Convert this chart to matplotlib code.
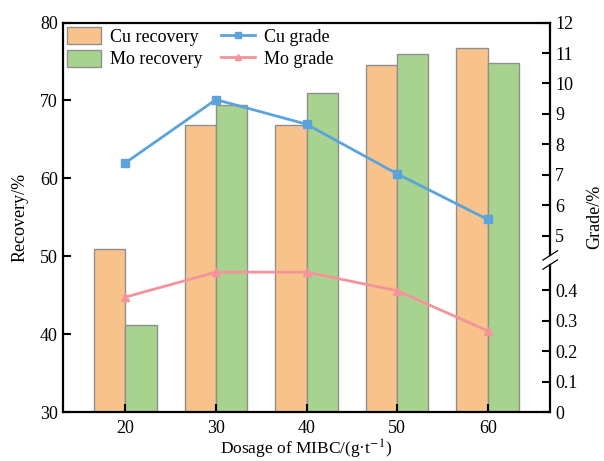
import numpy as np
import matplotlib
matplotlib.use('Agg')
import matplotlib.pyplot as plt
from matplotlib.patches import Patch
from matplotlib.lines import Line2D

plt.rcParams['font.family'] = ['Liberation Serif', 'DejaVu Serif']
plt.rcParams['mathtext.fontset'] = 'stix'

# Data
dosage = [20, 30, 40, 50, 60]
cu_recovery = [51.0, 66.9, 66.9, 74.6, 76.8]
mo_recovery = [41.2, 69.4, 70.9, 76.0, 74.8]
cu_grade = [7.39, 9.47, 8.66, 7.03, 5.53]
mo_grade = [0.378, 0.460, 0.460, 0.399, 0.267]

right_ticks = [0, 0.1, 0.2, 0.3, 0.4, 5, 6, 7, 8, 9, 10, 11, 12]
right_labels = ['0', '0.1', '0.2', '0.3', '0.4', '5', '6', '7', '8', '9', '10', '11', '12']


# broken right axis: 0-0.5 -> 0-5, 4.2-12 -> 5-12.8
def to_u(v):
    v = np.asarray(v, dtype=float)
    return np.where(v <= 0.5, v * 10, v + 0.8)


fig = plt.figure(figsize=(6.04, 4.61), dpi=100)
ax = fig.add_axes([0.104, 0.106, 0.807, 0.845])

x = np.array(dosage, dtype=float)
w = 3.45
ax.bar(x - w / 2, cu_recovery, width=w, color='#F8C38A', edgecolor='#8f8f8f', linewidth=1.0)
ax.bar(x + w / 2, mo_recovery, width=w, color='#A8D38F', edgecolor='#8f8f8f', linewidth=1.0)
ax.set_ylim(30, 80)
ax.set_xlim(13.1, 66.9)
ax.set_xticks(dosage)
ax.set_yticks([30, 40, 50, 60, 70, 80])
ax.tick_params(direction='in', length=6, width=1.5, labelsize=13)
ax.tick_params(axis='x', pad=6)
ax.set_xlabel('Dosage of MIBC/(g·t$^{-1}$)', fontsize=12.5, labelpad=0)
ax.set_ylabel('Recovery/%', fontsize=13, labelpad=8)
for s in ['left', 'bottom', 'top']:
    ax.spines[s].set_linewidth(1.6)
ax.spines['right'].set_visible(False)

ax2 = ax.twinx()
ax2.plot(x, to_u(cu_grade), color='#5AA3DC', lw=2, marker='s', ms=6)
ax2.plot(x, to_u(mo_grade), color='#F4939A', lw=2, marker='^', ms=6)
ax2.set_ylim(0, 12.8)
ax2.set_yticks(to_u(right_ticks))
ax2.set_yticklabels(right_labels)
ax2.tick_params(direction='in', length=6, width=1.5, labelsize=13)
ax2.set_ylabel('Grade/%', fontsize=13, labelpad=6)
for s in ['left', 'bottom', 'top']:
    ax2.spines[s].set_visible(False)
ax2.spines['right'].set_visible(False)

# right spine with a break
gap_lo, gap_hi = 4.85 / 12.8, 5.15 / 12.8
ax2.plot([1, 1], [0, gap_lo], transform=ax2.transAxes, color='k', lw=1.6, clip_on=False)
ax2.plot([1, 1], [gap_hi, 1], transform=ax2.transAxes, color='k', lw=1.6, clip_on=False)
for yb in [gap_lo, gap_hi]:
    ax2.plot([0.985, 1.015], [yb - 0.012, yb + 0.012], transform=ax2.transAxes,
             color='k', lw=0.9, clip_on=False)

handles = [Patch(facecolor='#F8C38A', edgecolor='#8f8f8f', label='Cu recovery'),
           Patch(facecolor='#A8D38F', edgecolor='#8f8f8f', label='Mo recovery'),
           Line2D([], [], color='#5AA3DC', lw=2, marker='s', ms=5, label='Cu grade'),
           Line2D([], [], color='#F4939A', lw=2, marker='^', ms=5, label='Mo grade')]
ax2.legend(handles=handles, loc='upper left', ncol=2, frameon=False, fontsize=13,
           bbox_to_anchor=(-0.025, 1.03), handlelength=1.9, handleheight=1.1,
           columnspacing=1.0, labelspacing=0.2, handletextpad=0.5)

fig.savefig('out.png', dpi=100)
